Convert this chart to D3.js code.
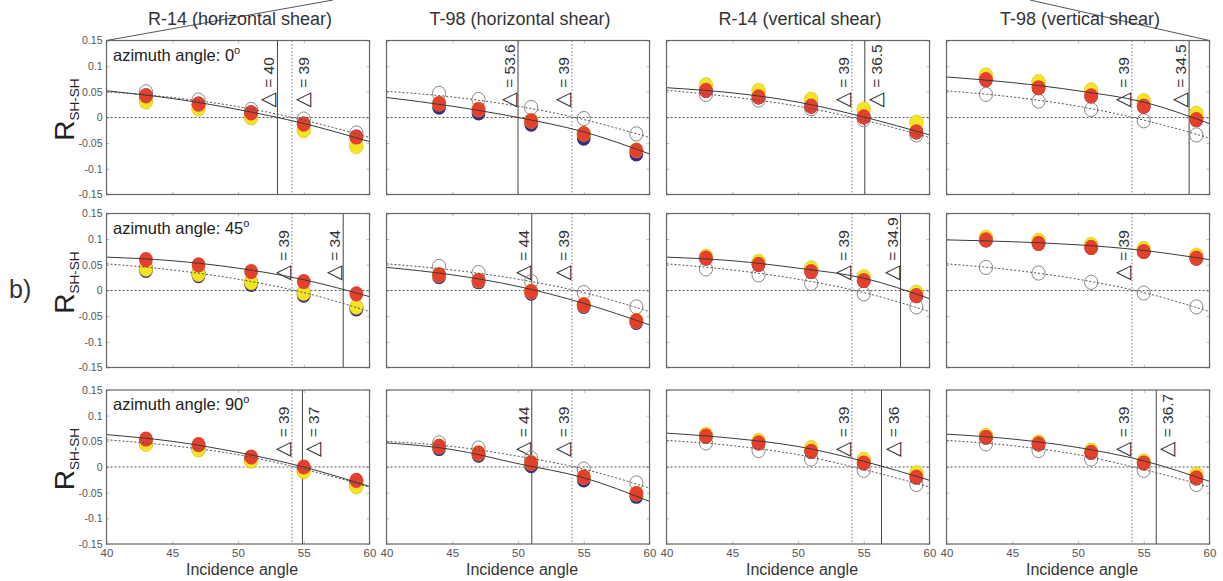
<!DOCTYPE html>
<html>
<head>
<meta charset="utf-8">
<script src="https://cdn.jsdelivr.net/npm/d3@7/dist/d3.min.js"></script>
<style>
  body { margin: 0; background: #fff; }
  svg { font-family: "Liberation Sans", Arial, sans-serif; }
</style>
</head>
<body>
<div id="vis"></div>
<script>
// Reflection coefficient R_SH-SH vs incidence angle, 3 azimuths x 4 cases

// ---- data ----
const columnTitles = ["R-14 (horizontal shear)", "T-98 (horizontal shear)", "R-14 (vertical shear)", "T-98 (vertical shear)"];
const azimuths = [0, 45, 90];
const xTicks = [40, 45, 50, 55, 60];
const yTicks = [0.15, 0.1, 0.05, 0, -0.05, -0.1, -0.15];
const yTickLabels = ["0.15", "0.1", "0.05", "0", "-0.05", "-0.1", "-0.15"];

// incidence angles of the data points, per column
const incR14 = [43, 47, 51, 55, 59];
const incT98h = [44, 47, 51, 55, 59];
const colIncidence = [incR14, incT98h, incR14, incR14];

// angles where fitted curves are sampled
const fitAngles = [40, 45, 50, 55, 60];

// panels in row order: az 0 (4 cols), az 45 (4 cols), az 90 (4 cols)
const openPts = [
  [0.050, 0.034, 0.0156, -0.003, -0.030],
  [0.047, 0.035, 0.0195, -0.002, -0.032],
  [0.045, 0.034, 0.017, -0.004, -0.034],
  [0.045, 0.032, 0.0156, -0.0065, -0.034],
  [0.044, 0.034, 0.016, -0.004, -0.033],
  [0.047, 0.035, 0.0175, -0.004, -0.032],
  [0.042, 0.0305, 0.014, -0.0065, -0.032],
  [0.045, 0.034, 0.016, -0.005, -0.032],
  [0.046, 0.035, 0.016, -0.004, -0.034],
  [0.047, 0.037, 0.0175, -0.004, -0.031],
  [0.047, 0.032, 0.0156, -0.0065, -0.034],
  [0.045, 0.032, 0.0156, -0.0065, -0.034]
];
const bluePts = [
  [0.042, 0.026, 0.009, -0.013, -0.038],
  [0.020, 0.009, -0.013, -0.040, -0.071],
  [0.053, 0.040, 0.022, 0.0013, -0.028],
  [0.074, 0.058, 0.042, 0.022, -0.004],
  [0.039, 0.029, 0.012, -0.009, -0.036],
  [0.027, 0.017, -0.005, -0.031, -0.062],
  [0.063, 0.051, 0.037, 0.0195, -0.010],
  [0.0986, 0.092, 0.084, 0.076, 0.063],
  [0.052, 0.041, 0.017, -0.002, -0.028],
  [0.036, 0.023, 0.0026, -0.025, -0.057],
  [0.060, 0.047, 0.0305, 0.0078, -0.0195],
  [0.058, 0.045, 0.0285, 0.0078, -0.021]
];
const yellowPts = [
  [0.031, 0.0175, 0.0, -0.025, -0.056],
  [0.027, 0.0156, -0.0065, -0.032, -0.064],
  [0.063, 0.052, 0.035, 0.0156, -0.010],
  [0.082, 0.069, 0.053, 0.032, 0.0078],
  [0.042, 0.032, 0.0156, -0.005, -0.032],
  [0.0305, 0.0195, -0.002, -0.028, -0.059],
  [0.066, 0.056, 0.0435, 0.026, -0.004],
  [0.103, 0.097, 0.089, 0.081, 0.068],
  [0.045, 0.034, 0.012, -0.0085, -0.038],
  [0.040, 0.027, 0.008, -0.0195, -0.052],
  [0.063, 0.051, 0.037, 0.014, -0.012],
  [0.061, 0.048, 0.032, 0.011, -0.015]
];
const redPts = [
  [0.042, 0.026, 0.009, -0.013, -0.038],
  [0.027, 0.0156, -0.0065, -0.032, -0.064],
  [0.053, 0.040, 0.022, 0.0013, -0.028],
  [0.074, 0.058, 0.042, 0.022, -0.004],
  [0.060, 0.050, 0.037, 0.0175, -0.0065],
  [0.0305, 0.0195, -0.002, -0.028, -0.059],
  [0.063, 0.051, 0.037, 0.0195, -0.010],
  [0.0986, 0.092, 0.084, 0.076, 0.063],
  [0.0545, 0.0435, 0.0195, 0.0, -0.026],
  [0.040, 0.027, 0.008, -0.0195, -0.052],
  [0.060, 0.047, 0.0305, 0.0078, -0.0195],
  [0.058, 0.045, 0.0285, 0.0078, -0.021]
];
// solid fitted curve (anisotropic) sampled at fitAngles
const solidFit = [
  [0.052, 0.037, 0.0156, -0.0117, -0.047],
  [0.039, 0.022, 0.0, -0.028, -0.071],
  [0.058, 0.048, 0.030, 0.001, -0.034],
  [0.079, 0.068, 0.052, 0.030, -0.012],
  [0.065, 0.058, 0.0435, 0.021, -0.012],
  [0.045, 0.0305, 0.008, -0.025, -0.067],
  [0.065, 0.058, 0.0435, 0.024, -0.016],
  [0.0986, 0.095, 0.089, 0.078, 0.060],
  [0.063, 0.050, 0.0285, 0.0, -0.038],
  [0.047, 0.034, 0.0065, -0.021, -0.067],
  [0.066, 0.056, 0.040, 0.011, -0.026],
  [0.064, 0.0545, 0.038, 0.012, -0.028]
];
// dotted fitted curve (isotropic) sampled at fitAngles
const dottedFit = [
  [0.050, 0.039, 0.021, -0.005, -0.039],
  [0.051, 0.040, 0.022, -0.004, -0.039],
  [0.053, 0.040, 0.022, -0.005, -0.039],
  [0.052, 0.040, 0.022, -0.005, -0.040],
  [0.052, 0.040, 0.022, -0.004, -0.041],
  [0.052, 0.040, 0.022, -0.004, -0.041],
  [0.052, 0.040, 0.022, -0.004, -0.041],
  [0.052, 0.040, 0.022, -0.004, -0.041],
  [0.053, 0.0415, 0.024, -0.004, -0.039],
  [0.050, 0.040, 0.021, -0.004, -0.041],
  [0.052, 0.0415, 0.024, -0.005, -0.039],
  [0.052, 0.0415, 0.024, -0.005, -0.039]
];
// zero crossings: isotropic (dotted) and anisotropic (solid)
const isoCross = 54.1;
const isoLabel = "39";
const solidCross = [53.0, 50.0, 55.08, 58.45, 58.0, 51.05, 57.8, null, 54.9, 51.05, 56.35, 55.95];
const solidLabel = ["40", "53.6", "36.5", "34.5", "34", "44", "34.9", null, "37", "44", "36", "36.7"];
// which side of its line each label sits on (-1 left, 1 right)
const solidSide = [-1, -1, 1, -1, -1, -1, -1, 0, 1, -1, 1, 1];
const isoSide = [1, -1, -1, -1, -1, -1, -1, -1, -1, -1, -1, -1];

// ---- layout ----
width = 1223;
height = 581;
panelW = 263;
panelH = 154;
panelLeft = [106.5, 386.5, 666.5, 946.5];
panelTop = [40.5, 213.5, 390];

let xScale = d3.scaleLinear().domain([40, 60]).range([0, panelW]);
let yScale = d3.scaleLinear().domain([-0.15, 0.15]).range([panelH, 0]);

const svg = d3.select("#vis").append("svg")
    .attr("width", width).attr("height", height);

// zoom-in guide lines from part a)
svg.append("line").attr("x1", panelLeft[0]).attr("y1", panelTop[0]).attr("x2", 333).attr("y2", 0)
    .attr("stroke", "#555").attr("stroke-width", 1);
svg.append("line").attr("x1", panelLeft[3] + panelW).attr("y1", panelTop[0]).attr("x2", 1030).attr("y2", 0)
    .attr("stroke", "#555").attr("stroke-width", 1);

// column titles
columnTitles.forEach((t, c) => {
  svg.append("text")
      .attr("x", panelLeft[c] + panelW / 2 + 2)
      .attr("y", 25)
      .attr("text-anchor", "middle")
      .attr("font-size", 18)
      .attr("fill", "#333")
      .text(t);
});

// b) label
svg.append("text").attr("x", 9).attr("y", 298).attr("font-size", 25).attr("fill", "#333").text("b)");

const line = d3.line()
    .x(d => xScale(d[0]))
    .y(d => yScale(d[1]))
    .curve(d3.curveMonotoneX);

function deltaText(g, xv, side, label) {
  let px = xScale(xv) + (side < 0 ? -3 : 17);
  let py = 67;
  let t = g.append("text")
      .attr("transform", `translate(${px},${py}) rotate(-90)`)
      .attr("font-size", 15.5)
      .attr("fill", "#333");
  t.append("tspan").attr("font-family", "DejaVu Sans").attr("font-size", 20).text("\u25B3");
  t.append("tspan").text(" = " + label);
}

azimuths.forEach((az, r) => {
  // y axis label for the row
  let yl = svg.append("text")
      .attr("transform", `translate(74,${panelTop[r] + 69}) rotate(-90)`)
      .attr("text-anchor", "middle")
      .attr("fill", "#222");
  yl.append("tspan").attr("font-size", 28).text("R");
  yl.append("tspan").attr("font-size", 13.5).attr("dy", 5).text("SH-SH");

  columnTitles.forEach((t, c) => {
    let k = r * 4 + c;
    let inc = colIncidence[c];
    let g = svg.append("g").attr("transform", `translate(${panelLeft[c]},${panelTop[r]})`);

    g.append("rect").attr("width", panelW).attr("height", panelH).attr("fill", "#fff");

    // inward tick marks on all four sides
    let xb = d3.axisBottom(xScale).tickValues(xTicks).tickSize(-3).tickPadding(5)
        .tickFormat(r === 2 ? d3.format("d") : "");
    let xt = d3.axisTop(xScale).tickValues(xTicks).tickSize(-3).tickFormat("");
    let yl2 = d3.axisLeft(yScale).tickValues(yTicks).tickSize(-3).tickPadding(4)
        .tickFormat(c === 0 ? (d, i) => yTickLabels[i] : "");
    let yr = d3.axisRight(yScale).tickValues(yTicks).tickSize(-3).tickFormat("");
    [[xb, `translate(0,${panelH})`], [xt, "translate(0,0)"], [yl2, "translate(0,0)"], [yr, `translate(${panelW},0)`]]
      .forEach(([ax, tr]) => {
        let a = g.append("g").attr("transform", tr).call(ax);
        a.select(".domain").remove();
        a.selectAll("line").attr("stroke", "#bbb");
        a.selectAll("text").attr("fill", "#555").attr("font-size", ax === yl2 ? 10.5 : 11.5);
      });

    // zero line
    g.append("line").attr("x1", 0).attr("x2", panelW).attr("y1", yScale(0)).attr("y2", yScale(0))
        .attr("stroke", "#555").attr("stroke-dasharray", "2,2");
    // isotropic crossing
    g.append("line").attr("x1", xScale(isoCross)).attr("x2", xScale(isoCross)).attr("y1", 0).attr("y2", panelH)
        .attr("stroke", "#777").attr("stroke-dasharray", "1.5,2");
    deltaText(g, isoCross, isoSide[k], isoLabel);
    // anisotropic crossing
    if (solidCross[k] !== null) {
      g.append("line").attr("x1", xScale(solidCross[k])).attr("x2", xScale(solidCross[k])).attr("y1", 0).attr("y2", panelH)
          .attr("stroke", "#444").attr("stroke-width", 1);
      deltaText(g, solidCross[k], solidSide[k], solidLabel[k]);
    }

    // points
    let openD = inc.map((x, i) => [x, openPts[k][i]]);
    let blueD = inc.map((x, i) => [x, bluePts[k][i]]);
    let yellowD = inc.map((x, i) => [x, yellowPts[k][i]]);
    let redD = inc.map((x, i) => [x, redPts[k][i]]);

    g.selectAll(".open").data(openD).enter().append("ellipse").attr("class", "open")
        .attr("cx", d => xScale(d[0])).attr("cy", d => yScale(d[1]))
        .attr("rx", 6.6).attr("ry", 7.1)
        .attr("fill", "none").attr("stroke", "#888").attr("stroke-width", 1);
    g.selectAll(".blue").data(blueD).enter().append("ellipse").attr("class", "blue")
        .attr("cx", d => xScale(d[0])).attr("cy", d => yScale(d[1]))
        .attr("rx", 6.9).attr("ry", 7.6).attr("fill", "#3b2a85");
    g.selectAll(".yellow").data(yellowD).enter().append("ellipse").attr("class", "yellow")
        .attr("cx", d => xScale(d[0])).attr("cy", d => yScale(d[1]))
        .attr("rx", 6.9).attr("ry", 7.6).attr("fill", "#f4e424")
        .attr("stroke", "#c8b914").attr("stroke-width", 0.5);
    g.selectAll(".red").data(redD).enter().append("ellipse").attr("class", "red")
        .attr("cx", d => xScale(d[0])).attr("cy", d => yScale(d[1]))
        .attr("rx", 6.9).attr("ry", 7.6).attr("fill", "#e4402b");

    // fitted curves
    g.append("path").datum(fitAngles.map((x, i) => [x, dottedFit[k][i]]))
        .attr("d", line).attr("fill", "none").attr("stroke", "#555").attr("stroke-width", 1)
        .attr("stroke-dasharray", "2,2");
    g.append("path").datum(fitAngles.map((x, i) => [x, solidFit[k][i]]))
        .attr("d", line).attr("fill", "none").attr("stroke", "#3a3a3a").attr("stroke-width", 1);

    // frame
    g.append("rect").attr("width", panelW).attr("height", panelH)
        .attr("fill", "none").attr("stroke", "#666").attr("stroke-width", 1.2);

    // azimuth label in first column
    if (c === 0) {
      let at = g.append("text").attr("x", 6.5).attr("y", 20).attr("font-size", 16.5).attr("fill", "#222");
      at.append("tspan").text("azimuth angle: " + az);
      at.append("tspan").attr("font-size", 11).attr("dy", -7).text("o");
    }
    // x axis label in bottom row
    if (r === 2) {
      svg.append("text")
          .attr("x", panelLeft[c] + panelW / 2 + 4)
          .attr("y", panelTop[r] + panelH + 31)
          .attr("text-anchor", "middle")
          .attr("font-size", 16)
          .attr("fill", "#333")
          .text("Incidence angle");
    }
  });
});
</script>
</body>
</html>
